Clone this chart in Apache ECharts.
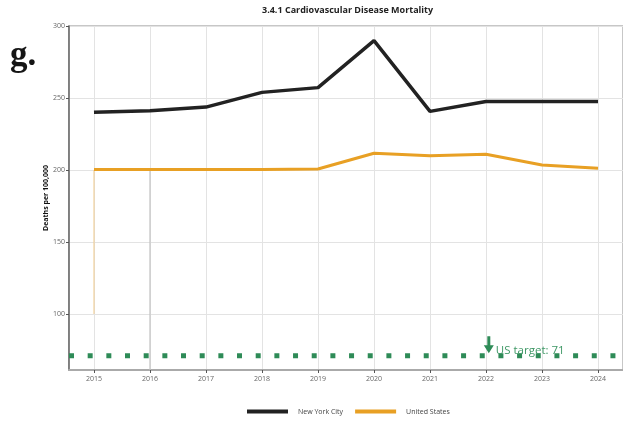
<!DOCTYPE html>
<html><head><meta charset="utf-8">
<script src="https://cdn.jsdelivr.net/npm/echarts@6/dist/echarts.min.js"></script>
<style>html,body{margin:0;padding:0;background:#fff}#c{width:623px;height:421px}</style>
</head><body><div id="c"></div>
<script>
const titleText = '3.4.1 Cardiovascular Disease Mortality';
const panelLetter = 'g.';
const yAxisName = 'Deaths per 100,000';
const years = [2015, 2016, 2017, 2018, 2019, 2020, 2021, 2022, 2023, 2024];
const nyc = [240.1, 241.2, 243.7, 253.9, 257.2, 289.8, 240.7, 247.6, 247.6, 247.6];
const us = [200.3, 200.3, 200.3, 200.4, 200.7, 211.6, 209.9, 210.9, 203.5, 201.2];
const seriesNames = ['New York City', 'United States'];
const target = 71;
const targetYear = 2022.05;
const targetLabel = 'US target: 71';
const xRange = [2014.554, 2024.446];
const yRange = [61.1, 300];
// thin vertical artefact strokes seen in the reference
const artifactOrange = [[2015, 200], [2015, 100]];
const artifactGray = [[2016, 200], [2016, 61.1]];

const FONT = '"Open Sans", sans-serif';
const GREEN = '#2e8b57';
const ORANGE = '#e8a024';
const BLACK = '#222222';

const chart = echarts.init(document.getElementById('c'), null, {renderer: 'canvas'});
chart.setOption({
  animation: false,
  backgroundColor: '#fff',
  title: {
    text: titleText, left: 262, top: 6, padding: 0,
    textStyle: {fontFamily: FONT, fontSize: 9, fontWeight: 'bold', color: '#222'}
  },
  graphic: [{
    type: 'text', left: 10, top: 38,
    style: {text: panelLetter, font: 'bold 35px "Liberation Serif", "DejaVu Serif", serif', fill: '#151515'}
  }],
  legend: {
    data: seriesNames, left: 247, top: 408, padding: 0,
    icon: 'rect', itemWidth: 41, itemHeight: 4, itemGap: 12,
    textStyle: {fontFamily: FONT, fontSize: 7, color: '#444', padding: [0, 0, 0, 5]}
  },
  grid: {left: 69, right: -1, top: 26, bottom: 51, show: true, borderColor: '#b5b5b5', borderWidth: 1.5},
  xAxis: {
    type: 'value', min: xRange[0], max: xRange[1], minInterval: 1, maxInterval: 1,
    axisLine: {show: true, lineStyle: {color: '#aaaaaa', width: 2}},
    axisTick: {show: true, length: 3, lineStyle: {color: '#555'}},
    axisLabel: {
      fontFamily: FONT, fontSize: 7, color: '#666', margin: 5,
      showMinLabel: false, showMaxLabel: false,
      formatter: v => Math.abs(v - Math.round(v)) < 1e-6 ? String(Math.round(v)) : ''
    },
    splitLine: {show: true, lineStyle: {color: '#e3e3e3', width: 1}}
  },
  yAxis: {
    type: 'value', min: yRange[0], max: yRange[1], minInterval: 50, maxInterval: 50,
    name: yAxisName, nameLocation: 'middle', nameGap: 20, nameRotate: 90, nameMoveOverlap: false,
    nameTextStyle: {fontFamily: FONT, fontSize: 7, fontWeight: 'bold', color: '#111'},
    axisLine: {show: true, lineStyle: {color: '#666', width: 1.5}},
    axisTick: {show: true, length: 3, lineStyle: {color: '#555'}},
    axisLabel: {fontFamily: FONT, fontSize: 7, color: '#666', margin: 4, showMinLabel: false},
    splitLine: {show: true, lineStyle: {color: '#e3e3e3', width: 1}}
  },
  series: [
    {
      name: 'artifact-gray', type: 'line', data: artifactGray, symbol: 'none', silent: true,
      lineStyle: {color: '#c4c4c4', width: 1.2}, z: 1
    },
    {
      name: 'artifact-orange', type: 'line', data: artifactOrange, symbol: 'none', silent: true,
      lineStyle: {color: '#f2cc8e', width: 1}, z: 1
    },
    {
      name: seriesNames[0], type: 'line', color: BLACK,
      data: years.map((y, i) => [y, nyc[i]]), symbol: 'none',
      lineStyle: {color: BLACK, width: 3.5}, z: 3
    },
    {
      name: seriesNames[1], type: 'line', color: ORANGE,
      data: years.map((y, i) => [y, us[i]]), symbol: 'none',
      lineStyle: {color: ORANGE, width: 3}, z: 3
    },
    {
      name: 'target', type: 'line', data: [[xRange[0], target], [xRange[1], target]], symbol: 'none',
      lineStyle: {color: GREEN, width: 5, type: [5, 13.67], cap: 'butt'}, z: 2,
      markPoint: {
        silent: true,
        data: [{coord: [targetYear, target]}],
        symbol: 'path://M3.5,0 L6.5,0 L6.5,9 L10,9 L5,17 L0,9 L3.5,9 Z',
        symbolSize: [10, 17], symbolKeepAspect: false, symbolOffset: [0, -11],
        itemStyle: {color: GREEN},
        label: {
          show: true, formatter: targetLabel, position: 'right', distance: 2, offset: [0, 6],
          fontFamily: FONT, fontSize: 11.5, color: '#3f9866'
        }
      }
    }
  ]
});
</script></body></html>
